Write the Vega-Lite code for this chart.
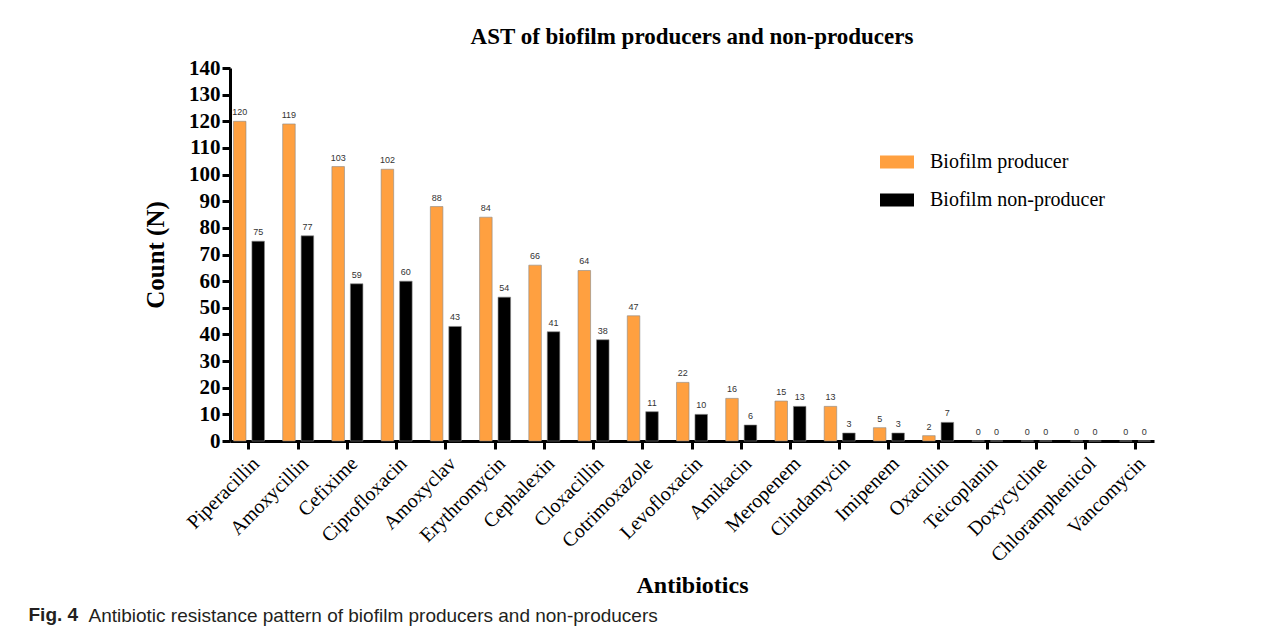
{
  "$schema": "https://vega.github.io/schema/vega-lite/v6.json",
  "background": "white",
  "padding": {"left": 28, "top": 26, "right": 5, "bottom": 8},
  "title": {"text": "Fig. 4", "orient": "bottom", "anchor": "start", "font": "Liberation Sans", "fontWeight": "bold", "fontSize": 19, "color": "#231f20", "offset": 0, "dy": -20, "dx": -60},
  "vconcat": [
    {
      "title": {"text": "Antibiotic resistance pattern of biofilm producers and non-producers", "orient": "bottom", "anchor": "start", "font": "Liberation Sans", "fontWeight": "normal", "fontSize": 19, "color": "#231f20", "offset": 10, "dx": -55},
      "vconcat": [
        {
          "title": {"text": "AST of biofilm producers and non-producers", "font": "Liberation Serif", "fontSize": 23, "fontWeight": "bold", "color": "#000000", "offset": 8},
          "width": 924,
          "height": 373,
          "data": {"values": [
            {"antibiotic": "Piperacillin", "group": "Biofilm producer", "count": 120},
            {"antibiotic": "Piperacillin", "group": "Biofilm non-producer", "count": 75},
            {"antibiotic": "Amoxycillin", "group": "Biofilm producer", "count": 119},
            {"antibiotic": "Amoxycillin", "group": "Biofilm non-producer", "count": 77},
            {"antibiotic": "Cefixime", "group": "Biofilm producer", "count": 103},
            {"antibiotic": "Cefixime", "group": "Biofilm non-producer", "count": 59},
            {"antibiotic": "Ciprofloxacin", "group": "Biofilm producer", "count": 102},
            {"antibiotic": "Ciprofloxacin", "group": "Biofilm non-producer", "count": 60},
            {"antibiotic": "Amoxyclav", "group": "Biofilm producer", "count": 88},
            {"antibiotic": "Amoxyclav", "group": "Biofilm non-producer", "count": 43},
            {"antibiotic": "Erythromycin", "group": "Biofilm producer", "count": 84},
            {"antibiotic": "Erythromycin", "group": "Biofilm non-producer", "count": 54},
            {"antibiotic": "Cephalexin", "group": "Biofilm producer", "count": 66},
            {"antibiotic": "Cephalexin", "group": "Biofilm non-producer", "count": 41},
            {"antibiotic": "Cloxacillin", "group": "Biofilm producer", "count": 64},
            {"antibiotic": "Cloxacillin", "group": "Biofilm non-producer", "count": 38},
            {"antibiotic": "Cotrimoxazole", "group": "Biofilm producer", "count": 47},
            {"antibiotic": "Cotrimoxazole", "group": "Biofilm non-producer", "count": 11},
            {"antibiotic": "Levofloxacin", "group": "Biofilm producer", "count": 22},
            {"antibiotic": "Levofloxacin", "group": "Biofilm non-producer", "count": 10},
            {"antibiotic": "Amikacin", "group": "Biofilm producer", "count": 16},
            {"antibiotic": "Amikacin", "group": "Biofilm non-producer", "count": 6},
            {"antibiotic": "Meropenem", "group": "Biofilm producer", "count": 15},
            {"antibiotic": "Meropenem", "group": "Biofilm non-producer", "count": 13},
            {"antibiotic": "Clindamycin", "group": "Biofilm producer", "count": 13},
            {"antibiotic": "Clindamycin", "group": "Biofilm non-producer", "count": 3},
            {"antibiotic": "Imipenem", "group": "Biofilm producer", "count": 5},
            {"antibiotic": "Imipenem", "group": "Biofilm non-producer", "count": 3},
            {"antibiotic": "Oxacillin", "group": "Biofilm producer", "count": 2},
            {"antibiotic": "Oxacillin", "group": "Biofilm non-producer", "count": 7},
            {"antibiotic": "Teicoplanin", "group": "Biofilm producer", "count": 0},
            {"antibiotic": "Teicoplanin", "group": "Biofilm non-producer", "count": 0},
            {"antibiotic": "Doxycycline", "group": "Biofilm producer", "count": 0},
            {"antibiotic": "Doxycycline", "group": "Biofilm non-producer", "count": 0},
            {"antibiotic": "Chloramphenicol", "group": "Biofilm producer", "count": 0},
            {"antibiotic": "Chloramphenicol", "group": "Biofilm non-producer", "count": 0},
            {"antibiotic": "Vancomycin", "group": "Biofilm producer", "count": 0},
            {"antibiotic": "Vancomycin", "group": "Biofilm non-producer", "count": 0}
          ]},
          "encoding": {
            "x": {"field": "antibiotic", "type": "nominal", "sort": null,
              "scale": {"paddingInner": 0.37, "paddingOuter": 0.07},
              "axis": {"title": "Antibiotics", "titleFont": "Liberation Serif", "titleFontSize": 24, "titleFontWeight": "bold", "titleColor": "#000", "titlePadding": 8,
                "labelAngle": -45, "labelFont": "Liberation Serif", "labelFontSize": 20, "labelColor": "#000", "labelPadding": 4,
                "tickSize": 8, "tickWidth": 3, "tickColor": "#000", "domainWidth": 3, "domainColor": "#000", "grid": false}},
            "xOffset": {"field": "group", "type": "nominal", "sort": ["Biofilm producer", "Biofilm non-producer"], "scale": {"paddingInner": 0.32}},
            "y": {"field": "count", "type": "quantitative",
              "scale": {"domain": [0, 140], "nice": false},
              "axis": {"title": "Count (N)", "titleFont": "Liberation Serif", "titleFontSize": 25, "titleFontWeight": "bold", "titleColor": "#000", "titlePadding": 20,
                "values": [0,10,20,30,40,50,60,70,80,90,100,110,120,130,140],
                "labelFont": "Liberation Serif", "labelFontSize": 21, "labelFontWeight": "bold", "labelColor": "#000", "labelPadding": 2,
                "tickSize": 8, "tickWidth": 3, "tickColor": "#000", "domainWidth": 3, "domainColor": "#000", "grid": false}}
          },
          "layer": [
            {
              "mark": {"type": "bar", "stroke": "#888", "strokeWidth": 0.6},
              "encoding": {
                "color": {"field": "group", "type": "nominal",
                  "scale": {"domain": ["Biofilm producer", "Biofilm non-producer"], "range": ["#FFA040", "#000000"]},
                  "legend": {"title": null, "orient": "none", "legendX": 650, "legendY": 77,
                    "symbolType": "M-1,-0.38H1V0.38H-1Z", "symbolSize": 1156, "symbolStrokeWidth": 0,
                    "labelFont": "Liberation Serif", "labelFontSize": 20, "labelColor": "#000", "labelOffset": 16, "labelLimit": 0, "rowPadding": 11}}
              }
            },
            {
              "mark": {"type": "text", "dy": -9, "font": "Liberation Sans", "fontSize": 9, "color": "#333"},
              "encoding": {"text": {"field": "count", "type": "quantitative"}}
            }
          ]
        }
      ]
    }
  ],
  "config": {"view": {"stroke": null}}
}
